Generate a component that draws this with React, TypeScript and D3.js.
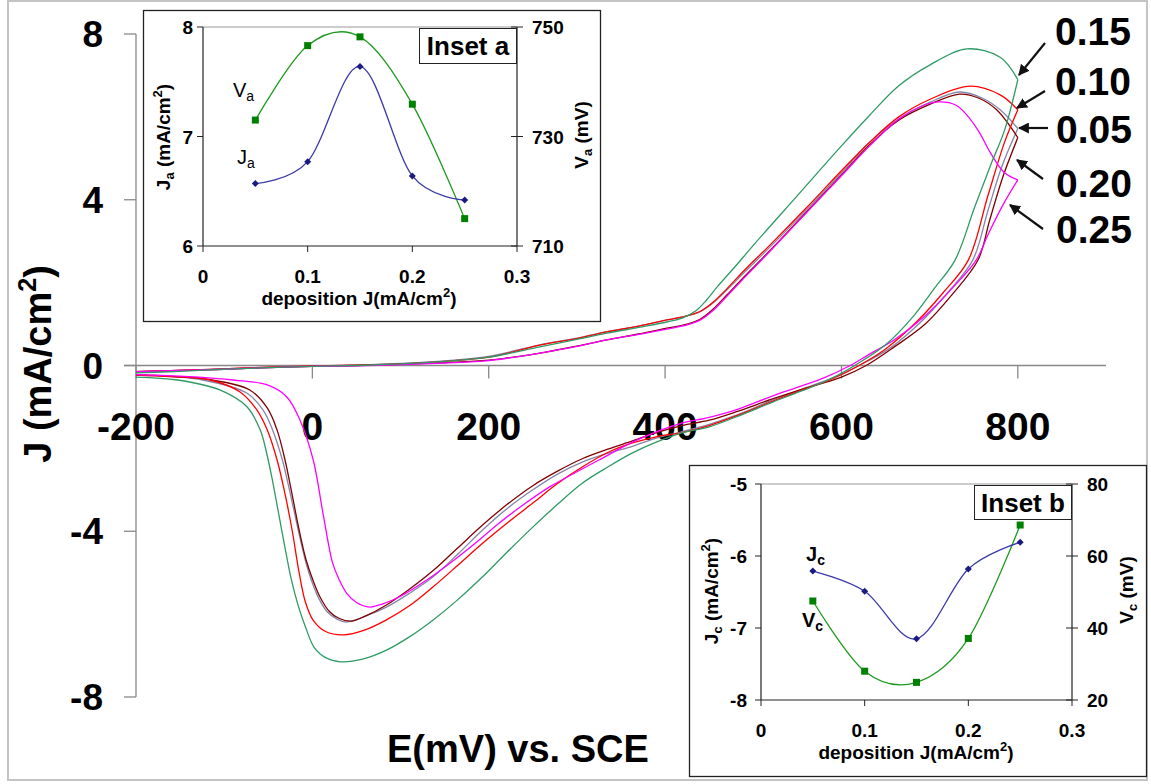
import React from "react";
import * as d3 from "d3";

type P = [number, number];

// ---------- main CV curves: [E (mV), J (mA/cm2)] ----------
const fwd005: P[] = [[-200,-0.15],[-150,-0.12],[-100,-0.08],[-50,-0.04],[0,-0.01],[50,0.01],[100,0.05],[150,0.11],[200,0.22],[258,0.5],[300,0.66],[334,0.82],[370,0.95],[402,1.1],[425,1.2],[440,1.3],[454,1.5],[470,1.82],[490,2.25],[520,2.88],[560,3.75],[600,4.65],[632,5.39],[665,5.95],[700,6.35],[734,6.6],[760,6.45],[780,6.17],[800,5.72]];
const rev005: P[] = [[800,5.72],[782,4.81],[766,3.73],[749,2.55],[720,1.75],[690,1.05],[655,0.42],[620,0],[590,-0.3],[554,-0.58],[520,-0.85],[483,-1.18],[450,-1.42],[419,-1.6],[390,-1.75],[363,-1.95],[335,-2.12],[306,-2.33],[278,-2.62],[250,-3.0],[221,-3.45],[193,-3.97],[165,-4.55],[137,-5.1],[110,-5.5],[84,-5.83],[60,-6.05],[39,-6.19],[28,-6.12],[17,-5.95],[8,-5.65],[0,-5.25],[-8,-4.7],[-16,-3.97],[-26,-3.0],[-34,-2.28],[-45,-1.56],[-56,-1.07],[-74,-0.67],[-124,-0.35],[-160,-0.27],[-200,-0.23]];

const fwd010: P[] = [[-200,-0.15],[-150,-0.12],[-100,-0.08],[-50,-0.04],[0,-0.01],[50,0.01],[100,0.04],[150,0.1],[200,0.2],[258,0.49],[300,0.65],[334,0.81],[370,0.95],[402,1.1],[425,1.2],[440,1.31],[454,1.52],[470,1.85],[490,2.3],[520,2.93],[560,3.8],[600,4.7],[632,5.39],[665,6.0],[700,6.42],[746,6.74],[780,6.53],[800,6.17]];
const rev010: P[] = [[800,6.17],[785,5.39],[766,4.09],[744,2.55],[715,1.75],[685,1.05],[650,0.4],[620,0],[590,-0.32],[554,-0.6],[520,-0.88],[483,-1.2],[450,-1.45],[419,-1.62],[390,-1.72],[363,-1.87],[335,-2.1],[306,-2.45],[278,-2.85],[250,-3.32],[221,-3.8],[193,-4.29],[165,-4.82],[137,-5.34],[110,-5.8],[84,-6.14],[60,-6.38],[35,-6.5],[15,-6.42],[1,-6.15],[-8,-5.7],[-15,-5.0],[-23,-3.97],[-31,-3.1],[-40,-2.28],[-51,-1.56],[-63,-1.07],[-82,-0.64],[-116,-0.35],[-160,-0.27],[-200,-0.23]];

const fwd015: P[] = [[-200,-0.18],[-150,-0.14],[-100,-0.09],[-50,-0.05],[0,-0.02],[50,0.0],[100,0.04],[150,0.1],[200,0.2],[258,0.45],[300,0.63],[334,0.78],[370,0.92],[402,1.05],[420,1.15],[435,1.32],[447,1.58],[460,1.92],[480,2.4],[500,2.9],[550,4.1],[600,5.3],[632,6.04],[665,6.75],[700,7.25],[742,7.64],[780,7.44],[800,6.9]];
const rev015: P[] = [[800,6.9],[785,5.68],[770,4.88],[751,3.82],[729,2.55],[705,1.85],[680,1.15],[650,0.5],[615,0],[585,-0.35],[554,-0.62],[520,-0.9],[483,-1.22],[450,-1.48],[420,-1.62],[390,-1.85],[363,-2.11],[335,-2.45],[306,-2.84],[278,-3.35],[250,-3.9],[221,-4.5],[193,-5.1],[165,-5.65],[137,-6.14],[110,-6.55],[84,-6.87],[58,-7.08],[32,-7.15],[15,-7.05],[2,-6.8],[-8,-6.3],[-16,-5.8],[-24,-5.15],[-31,-4.4],[-38,-3.6],[-45,-2.8],[-52,-2.1],[-59,-1.56],[-74,-1.0],[-105,-0.59],[-153,-0.35],[-200,-0.28]];

const fwd020: P[] = [[-200,-0.15],[-150,-0.12],[-100,-0.09],[-50,-0.05],[0,-0.02],[50,0.0],[100,0.03],[150,0.07],[200,0.13],[258,0.3],[300,0.47],[334,0.62],[370,0.76],[402,0.9],[425,1.0],[440,1.12],[454,1.35],[470,1.7],[490,2.15],[520,2.8],[560,3.7],[600,4.6],[632,5.33],[665,5.92],[700,6.3],[734,6.55],[756,6.45],[776,6.17],[800,5.5]];
const rev020: P[] = [[800,5.5],[783,4.55],[768,3.5],[755,2.55],[725,1.7],[695,1.0],[660,0.45],[628,0],[600,-0.28],[554,-0.58],[520,-0.82],[483,-1.1],[450,-1.32],[419,-1.45],[390,-1.62],[363,-1.82],[335,-2.02],[306,-2.25],[278,-2.55],[250,-2.9],[221,-3.35],[193,-3.85],[165,-4.4],[137,-4.95],[110,-5.4],[84,-5.78],[60,-6.05],[44,-6.17],[30,-6.1],[19,-5.93],[9,-5.6],[1,-5.2],[-7,-4.7],[-15,-3.97],[-24,-3.0],[-31,-2.28],[-40,-1.56],[-51,-1.03],[-71,-0.59],[-120,-0.33],[-160,-0.26],[-200,-0.22]];

const fwd025: P[] = [[-200,-0.15],[-150,-0.12],[-100,-0.09],[-50,-0.05],[0,-0.02],[50,-0.01],[100,0.02],[150,0.06],[200,0.12],[258,0.3],[300,0.46],[334,0.62],[370,0.75],[402,0.88],[425,0.98],[440,1.1],[454,1.32],[470,1.67],[490,2.12],[520,2.78],[560,3.68],[600,4.58],[632,5.3],[665,5.95],[690,6.25],[710,6.36],[730,6.28],[744,6.0],[757,5.6],[769,5.13],[785,4.65],[800,4.48]];
const rev025: P[] = [[800,4.48],[783,3.87],[766,3.15],[753,2.55],[725,1.85],[695,1.2],[660,0.62],[630,0.25],[610,0],[580,-0.3],[554,-0.5],[520,-0.75],[483,-1.05],[450,-1.25],[419,-1.39],[390,-1.6],[363,-1.85],[325,-2.28],[297,-2.6],[269,-2.93],[240,-3.35],[212,-3.8],[184,-4.3],[156,-4.77],[128,-5.2],[99,-5.58],[80,-5.75],[65,-5.83],[50,-5.72],[39,-5.5],[30,-5.15],[23,-4.77],[12,-3.56],[1,-2.28],[-14,-1.32],[-29,-0.76],[-51,-0.47],[-90,-0.35],[-140,-0.27],[-200,-0.22]];

const seriesLabels = ["0.15", "0.10", "0.05", "0.20", "0.25"];
const xTicks = [-200, 0, 200, 400, 600, 800];
const yTicks = [-8, -4, 0, 4, 8];

// ---------- insets ----------
const depJ = [0.05, 0.1, 0.15, 0.2, 0.25];
const Ja = [6.57, 6.77, 7.64, 6.64, 6.42];
const Va = [733.0, 746.6, 748.2, 735.9, 715.0];
const Jc = [-6.21, -6.49, -7.15, -6.18, -5.81];
const Vc = [47.5, 28.0, 24.9, 37.1, 68.6];
const insetXTicks = [0, 0.1, 0.2, 0.3];
const insetAyL = [6, 7, 8];
const insetAyR = [710, 730, 750];
const insetByL = [-8, -7, -6, -5];
const insetByR = [20, 40, 60, 80];

const FONT = "'Liberation Sans', Arial, sans-serif";

export default function App() {
  const x = d3.scaleLinear().domain([-200, 900]).range([136, 1106]);
  const y = d3.scaleLinear().domain([-8, 8]).range([697, 34]);
  const line = d3
    .line<P>()
    .x((d) => x(d[0]))
    .y((d) => y(d[1]))
    .curve(d3.curveCatmullRom.alpha(0.5));

  const curves = [
    { f: fwd005, r: rev005, c: "#8585aa" },
    { f: fwd020, r: rev020, c: "#800000" },
    { f: fwd010, r: rev010, c: "#ff0000" },
    { f: fwd025, r: rev025, c: "#ff00ff" },
    { f: fwd015, r: rev015, c: "#2f9a66" },
  ];

  // arrows: label -> curve end
  const arrows = [
    { lab: seriesLabels[0], tx: 1055, ty: 45, from: [1045, 43], to: [1019, 75] },
    { lab: seriesLabels[1], tx: 1055, ty: 95, from: [1045, 91], to: [1017, 108] },
    { lab: seriesLabels[2], tx: 1056, ty: 143, from: [1048, 128], to: [1019, 128] },
    { lab: seriesLabels[3], tx: 1056, ty: 197, from: [1043, 179], to: [1017, 160] },
    { lab: seriesLabels[4], tx: 1056, ty: 243, from: [1043, 229], to: [1010, 205] },
  ];

  // inset a scales
  const ax = d3.scaleLinear().domain([0, 0.3]).range([203, 517]);
  const ayL = d3.scaleLinear().domain([6, 8]).range([246, 27]);
  const ayR = d3.scaleLinear().domain([710, 750]).range([246, 27]);
  // inset b scales
  const bx = d3.scaleLinear().domain([0, 0.3]).range([761, 1072]);
  const byL = d3.scaleLinear().domain([-8, -5]).range([700, 484]);
  const byR = d3.scaleLinear().domain([20, 80]).range([700, 484]);

  const smooth = (sx: any, sy: any, vals: number[]) =>
    d3
      .line<number>()
      .x((_, i) => sx(depJ[i]))
      .y((v) => sy(v))
      .curve(d3.curveCatmullRom.alpha(0))(vals) || "";

  const blueLine = "#3a3aa8";
  const blueMark = "#1a1a80";
  const greenLine = "#1f9a1f";
  const greenMark = "#008000";

  const diamond = (cx: number, cy: number, k: string) => (
    <polygon key={k} points={`${cx},${cy - 3.5} ${cx + 3.5},${cy} ${cx},${cy + 3.5} ${cx - 3.5},${cy}`} fill={blueMark} />
  );
  const square = (cx: number, cy: number, k: string) => (
    <rect key={k} x={cx - 3.5} y={cy - 3.5} width={7} height={7} fill={greenMark} />
  );

  const fmt = (v: number) => (v === 0 ? "0" : String(v));

  return (
    <svg
      width={1151}
      height={784}
      style={{ position: "absolute", left: 0, top: 0, background: "#fff" }}
      fontFamily={FONT}
    >
      <rect x={0} y={0} width={1151} height={784} fill="#fff" />
      <rect x={8} y={1} width={1139} height={779} fill="none" stroke="#c4c4c4" strokeWidth={2} />

      {/* main axes */}
      <line x1={136} y1={y(8)} x2={136} y2={y(-8)} stroke="#888" strokeWidth={1.3} />
      <line x1={124} y1={y(0)} x2={x(900)} y2={y(0)} stroke="#888" strokeWidth={1.3} />
      {yTicks.map((t) => (
        <g key={"yt" + t}>
          <line x1={124} x2={136} y1={y(t)} y2={y(t)} stroke="#888" strokeWidth={1.3} />
          <text x={103} y={y(t) + 13} textAnchor="end" fontSize={37} fontWeight="bold">
            {t}
          </text>
        </g>
      ))}
      {xTicks.map((t) => (
        <g key={"xt" + t}>
          <line x1={x(t)} x2={x(t)} y1={y(0)} y2={y(0) + 13} stroke="#888" strokeWidth={1.3} />
          <text x={x(t)} y={440} textAnchor="middle" fontSize={39} fontWeight="bold">
            {t}
          </text>
        </g>
      ))}

      {/* axis titles */}
      <text transform="translate(51,364) rotate(-90)" textAnchor="middle" fontSize={38} fontWeight="bold">
        <tspan>J (mA/cm</tspan>
        <tspan fontSize={25} dy={-15}>2</tspan>
        <tspan dy={15}>)</tspan>
      </text>
      <text x={387} y={762} fontSize={38} fontWeight="bold">
        E(mV) vs. SCE
      </text>

      {/* CV curves */}
      {curves.map((c, i) => (
        <g key={"c" + i} fill="none" stroke={c.c} strokeWidth={1.3}>
          <path d={line(c.f) || ""} />
          <path d={line(c.r) || ""} />
        </g>
      ))}

      {/* labels with arrows */}
      <defs>
        <marker id="ah" viewBox="0 0 10 10" refX={9} refY={5} markerWidth={5} markerHeight={5} orient="auto">
          <path d="M0,0 L10,5 L0,10 z" fill="#111" />
        </marker>
      </defs>
      {arrows.map((a, i) => (
        <g key={"a" + i}>
          <line x1={a.from[0]} y1={a.from[1]} x2={a.to[0]} y2={a.to[1]} stroke="#111" strokeWidth={2.2} markerEnd="url(#ah)" />
          <text x={a.tx} y={a.ty} fontSize={39} fontWeight="bold">
            {a.lab}
          </text>
        </g>
      ))}

      {/* ---------- Inset a ---------- */}
      <g>
        <rect x={143.5} y={10.5} width={457} height={311} fill="#fff" stroke="#222" strokeWidth={1.3} />
        <line x1={ax(0)} x2={ax(0.3)} y1={ayL(8)} y2={ayL(8)} stroke="#999" strokeWidth={1} />
        <line x1={ax(0)} x2={ax(0)} y1={ayL(8)} y2={ayL(6)} stroke="#222" strokeWidth={1.2} />
        <line x1={ax(0)} x2={ax(0.3)} y1={ayL(6)} y2={ayL(6)} stroke="#222" strokeWidth={1.2} />
        <line x1={ax(0.3)} x2={ax(0.3)} y1={ayR(750)} y2={ayR(710)} stroke="#222" strokeWidth={1.2} />
        {insetAyL.map((t) => (
          <g key={"al" + t}>
            <line x1={ax(0) - 6} x2={ax(0)} y1={ayL(t)} y2={ayL(t)} stroke="#222" />
            <text x={193} y={ayL(t) + 7} textAnchor="end" fontSize={19} fontWeight="bold">{t}</text>
          </g>
        ))}
        {insetAyR.map((t) => (
          <g key={"ar" + t}>
            <line x1={ax(0.3) - 6} x2={ax(0.3) + 6} y1={ayR(t)} y2={ayR(t)} stroke="#222" />
            <text x={532} y={ayR(t) + 7} fontSize={19} fontWeight="bold">{t}</text>
          </g>
        ))}
        {insetXTicks.map((t) => (
          <g key={"ax" + t}>
            <line x1={ax(t)} x2={ax(t)} y1={ayL(6)} y2={ayL(6) + 6} stroke="#222" />
            <text x={ax(t)} y={283} textAnchor="middle" fontSize={19} fontWeight="bold">{fmt(t)}</text>
          </g>
        ))}
        <text x={359} y={305} textAnchor="middle" fontSize={19} fontWeight="bold">
          <tspan>deposition J(mA/cm</tspan>
          <tspan fontSize={13} dy={-8}>2</tspan>
          <tspan dy={8}>)</tspan>
        </text>
        <text transform="translate(170,137) rotate(-90)" textAnchor="middle" fontSize={19} fontWeight="bold">
          <tspan>J</tspan>
          <tspan fontSize={13} dy={4}>a</tspan>
          <tspan dy={-4}> (mA/cm</tspan>
          <tspan fontSize={13} dy={-8}>2</tspan>
          <tspan dy={8}>)</tspan>
        </text>
        <text transform="translate(588,135) rotate(-90)" textAnchor="middle" fontSize={19} fontWeight="bold">
          <tspan>V</tspan>
          <tspan fontSize={13} dy={4}>a</tspan>
          <tspan dy={-4}> (mV)</tspan>
        </text>
        <path d={smooth(ax, ayR, Va)} fill="none" stroke={greenLine} strokeWidth={1.3} />
        <path d={smooth(ax, ayL, Ja)} fill="none" stroke={blueLine} strokeWidth={1.3} />
        {Va.map((v, i) => square(ax(depJ[i]), ayR(v), "vs" + i))}
        {Ja.map((v, i) => diamond(ax(depJ[i]), ayL(v), "jd" + i))}
        <text x={233} y={97} fontSize={20}>
          <tspan>V</tspan>
          <tspan fontSize={14} dy={4}>a</tspan>
        </text>
        <text x={237} y={164} fontSize={20}>
          <tspan>J</tspan>
          <tspan fontSize={14} dy={4}>a</tspan>
        </text>
        <rect x={419.5} y={28.5} width={97} height={35} fill="#fff" stroke="#222" strokeWidth={1} />
        <text x={468} y={55} textAnchor="middle" fontSize={26} fontWeight="bold">Inset a</text>
      </g>

      {/* ---------- Inset b ---------- */}
      <g>
        <rect x={689.5} y={465.5} width={457} height={311} fill="#fff" stroke="#222" strokeWidth={1.3} />
        <line x1={bx(0)} x2={bx(0.3)} y1={byL(-5)} y2={byL(-5)} stroke="#999" strokeWidth={1} />
        <line x1={bx(0)} x2={bx(0)} y1={byL(-5)} y2={byL(-8)} stroke="#222" strokeWidth={1.2} />
        <line x1={bx(0)} x2={bx(0.3)} y1={byL(-8)} y2={byL(-8)} stroke="#222" strokeWidth={1.2} />
        <line x1={bx(0.3)} x2={bx(0.3)} y1={byR(80)} y2={byR(20)} stroke="#222" strokeWidth={1.2} />
        {insetByL.map((t) => (
          <g key={"bl" + t}>
            <line x1={bx(0) - 6} x2={bx(0)} y1={byL(t)} y2={byL(t)} stroke="#222" />
            <text x={747} y={byL(t) + 7} textAnchor="end" fontSize={19} fontWeight="bold">{t}</text>
          </g>
        ))}
        {insetByR.map((t) => (
          <g key={"br" + t}>
            <line x1={bx(0.3) - 6} x2={bx(0.3) + 6} y1={byR(t)} y2={byR(t)} stroke="#222" />
            <text x={1087} y={byR(t) + 7} fontSize={19} fontWeight="bold">{t}</text>
          </g>
        ))}
        {insetXTicks.map((t) => (
          <g key={"bx" + t}>
            <line x1={bx(t)} x2={bx(t)} y1={byL(-8)} y2={byL(-8) + 6} stroke="#222" />
            <text x={bx(t)} y={737} textAnchor="middle" fontSize={19} fontWeight="bold">{fmt(t)}</text>
          </g>
        ))}
        <text x={916} y={759} textAnchor="middle" fontSize={19} fontWeight="bold">
          <tspan>deposition J(mA/cm</tspan>
          <tspan fontSize={13} dy={-8}>2</tspan>
          <tspan dy={8}>)</tspan>
        </text>
        <text transform="translate(718,591) rotate(-90)" textAnchor="middle" fontSize={19} fontWeight="bold">
          <tspan>J</tspan>
          <tspan fontSize={13} dy={4}>c</tspan>
          <tspan dy={-4}> (mA/cm</tspan>
          <tspan fontSize={13} dy={-8}>2</tspan>
          <tspan dy={8}>)</tspan>
        </text>
        <text transform="translate(1133,590) rotate(-90)" textAnchor="middle" fontSize={19} fontWeight="bold">
          <tspan>V</tspan>
          <tspan fontSize={13} dy={4}>c</tspan>
          <tspan dy={-4}> (mV)</tspan>
        </text>
        <path d={smooth(bx, byR, Vc)} fill="none" stroke={greenLine} strokeWidth={1.3} />
        <path d={smooth(bx, byL, Jc)} fill="none" stroke={blueLine} strokeWidth={1.3} />
        {Vc.map((v, i) => square(bx(depJ[i]), byR(v), "bvs" + i))}
        {Jc.map((v, i) => diamond(bx(depJ[i]), byL(v), "bjd" + i))}
        <text x={806} y={561} fontSize={20} fontWeight="bold">
          <tspan>J</tspan>
          <tspan fontSize={14} dy={4}>c</tspan>
        </text>
        <text x={802} y={627} fontSize={20} fontWeight="bold">
          <tspan>V</tspan>
          <tspan fontSize={14} dy={4}>c</tspan>
        </text>
        <rect x={974.5} y={485.5} width={97} height={34} fill="#fff" stroke="#222" strokeWidth={1} />
        <text x={1023} y={512} textAnchor="middle" fontSize={26} fontWeight="bold">Inset b</text>
      </g>
    </svg>
  );
}
